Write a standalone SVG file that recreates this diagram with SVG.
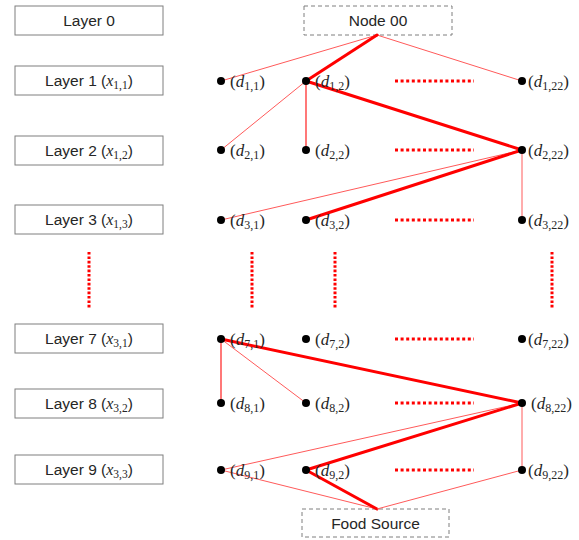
<svg xmlns="http://www.w3.org/2000/svg" width="579" height="540" viewBox="0 0 579 540">
  <style>
    .layer rect { fill: #fff; stroke: #7f7f7f; stroke-width: 1; }
    .term rect { fill: #fff; stroke: #7f7f7f; stroke-width: 1; stroke-dasharray: 4 3; }
    .lbl { font-family: "Liberation Sans", Arial, sans-serif; font-size: 15.5px; fill: #262626; text-anchor: middle; }
    .math { font-family: "Liberation Serif", "DejaVu Serif", serif; font-style: italic; font-size: 16px; }
    .sub { font-family: "Liberation Serif", "DejaVu Serif", serif; font-style: normal; font-size: 11.5px; }
    .dl { font-family: "Liberation Serif", "DejaVu Serif", serif; font-size: 17px; fill: #262626; }
    .dl .d { font-style: italic; }
    .dl .sub { font-size: 12px; }
    .dot { fill: #000; }
    .thin { stroke: #ff5a5a; stroke-width: 1; fill: none; }
    .mid { stroke: #ff3030; stroke-width: 1.3; fill: none; }
    .thick { stroke: #ff0000; stroke-width: 3; fill: none; stroke-linecap: round; }
    .hdots { stroke: #ff0000; stroke-width: 3; stroke-dasharray: 3 2.6; fill: none; }
    .vdots { stroke: #ff0000; stroke-width: 3; stroke-dasharray: 2.6 1.8; fill: none; }
  </style>

  <!-- layer labels -->
  <g id="layer0" class="layer"><rect x="15" y="6" width="148" height="29"/><text class="lbl" x="89" y="26">Layer 0</text></g>
  <g id="layer1" class="layer"><rect x="15" y="66" width="148" height="29"/><text class="lbl" x="89" y="86">Layer 1 (<tspan class="math">x</tspan><tspan class="sub" dy="3">1,1</tspan><tspan dy="-3">)</tspan></text></g>
  <g id="layer2" class="layer"><rect x="15" y="136" width="148" height="29"/><text class="lbl" x="89" y="156">Layer 2 (<tspan class="math">x</tspan><tspan class="sub" dy="3">1,2</tspan><tspan dy="-3">)</tspan></text></g>
  <g id="layer3" class="layer"><rect x="15" y="205" width="148" height="29"/><text class="lbl" x="89" y="225">Layer 3 (<tspan class="math">x</tspan><tspan class="sub" dy="3">1,3</tspan><tspan dy="-3">)</tspan></text></g>
  <g id="layer7" class="layer"><rect x="15" y="324" width="148" height="29"/><text class="lbl" x="89" y="344">Layer 7 (<tspan class="math">x</tspan><tspan class="sub" dy="3">3,1</tspan><tspan dy="-3">)</tspan></text></g>
  <g id="layer8" class="layer"><rect x="15" y="389" width="148" height="29"/><text class="lbl" x="89" y="409">Layer 8 (<tspan class="math">x</tspan><tspan class="sub" dy="3">3,2</tspan><tspan dy="-3">)</tspan></text></g>
  <g id="layer9" class="layer"><rect x="15" y="455" width="148" height="29"/><text class="lbl" x="89" y="475">Layer 9 (<tspan class="math">x</tspan><tspan class="sub" dy="3">3,3</tspan><tspan dy="-3">)</tspan></text></g>

  <!-- start and end nodes -->
  <g id="node00" class="term"><rect x="304" y="6" width="148" height="29"/><text class="lbl" x="378" y="26">Node 00</text></g>
  <g id="food" class="term"><rect x="302" y="509" width="147" height="28"/><text class="lbl" x="375.5" y="529">Food Source</text></g>

  <!-- connectors -->
  <g id="connectors">
    <line class="thin" x1="377" y1="35" x2="221" y2="81"/>
    <line class="thin" x1="377" y1="35" x2="522" y2="81"/>
    <line class="thick" x1="377" y1="35" x2="306" y2="81"/>
    <line class="thin" x1="306" y1="81" x2="221" y2="150"/>
    <line class="mid" x1="306" y1="81" x2="306" y2="150"/>
    <line class="thick" x1="306" y1="81" x2="522" y2="150"/>
    <line class="thin" x1="522" y1="150" x2="221" y2="220"/>
    <line class="thick" x1="522" y1="150" x2="306" y2="220"/>
    <line class="thin" x1="522" y1="150" x2="522" y2="220"/>
    <line class="mid" x1="221" y1="339" x2="221" y2="403"/>
    <line class="thin" x1="221" y1="339" x2="306" y2="403"/>
    <line class="thick" x1="221" y1="339" x2="522" y2="403"/>
    <line class="thin" x1="522" y1="403" x2="221" y2="470"/>
    <line class="thick" x1="522" y1="403" x2="306" y2="470"/>
    <line class="thin" x1="522" y1="403" x2="522" y2="470"/>
    <line class="thin" x1="221" y1="470" x2="377" y2="509"/>
    <line class="thick" x1="306" y1="470" x2="377" y2="509"/>
    <line class="thin" x1="522" y1="470" x2="377" y2="509"/>
  </g>

  <!-- ellipsis markers -->
  <g id="ellipses">
    <line class="hdots" x1="395" y1="81" x2="474" y2="81"/>
    <line class="hdots" x1="395" y1="150" x2="474" y2="150"/>
    <line class="hdots" x1="395" y1="220" x2="474" y2="220"/>
    <line class="hdots" x1="395" y1="339" x2="474" y2="339"/>
    <line class="hdots" x1="395" y1="403" x2="474" y2="403"/>
    <line class="hdots" x1="395" y1="470" x2="474" y2="470"/>
    <line class="vdots" x1="89" y1="252" x2="89" y2="308"/>
    <line class="vdots" x1="252" y1="252" x2="252" y2="308"/>
    <line class="vdots" x1="335" y1="252" x2="335" y2="308"/>
    <line class="vdots" x1="552" y1="252" x2="552" y2="308"/>
  </g>

  <!-- decision points -->
  <g id="d1_1"><circle class="dot" cx="221" cy="81" r="4"/><text class="dl" x="230" y="87">(<tspan class="d">d</tspan><tspan class="sub" dy="3">1,1</tspan><tspan dy="-3">)</tspan></text></g>
  <g id="d1_2"><circle class="dot" cx="306" cy="81" r="4"/><text class="dl" x="315" y="87">(<tspan class="d">d</tspan><tspan class="sub" dy="3">1,2</tspan><tspan dy="-3">)</tspan></text></g>
  <g id="d1_22"><circle class="dot" cx="522" cy="81" r="4"/><text class="dl" x="528" y="87">(<tspan class="d">d</tspan><tspan class="sub" dy="3">1,22</tspan><tspan dy="-3">)</tspan></text></g>

  <g id="d2_1"><circle class="dot" cx="221" cy="150" r="4"/><text class="dl" x="230" y="156">(<tspan class="d">d</tspan><tspan class="sub" dy="3">2,1</tspan><tspan dy="-3">)</tspan></text></g>
  <g id="d2_2"><circle class="dot" cx="306" cy="150" r="4"/><text class="dl" x="315" y="156">(<tspan class="d">d</tspan><tspan class="sub" dy="3">2,2</tspan><tspan dy="-3">)</tspan></text></g>
  <g id="d2_22"><circle class="dot" cx="522" cy="150" r="4"/><text class="dl" x="528" y="156">(<tspan class="d">d</tspan><tspan class="sub" dy="3">2,22</tspan><tspan dy="-3">)</tspan></text></g>

  <g id="d3_1"><circle class="dot" cx="221" cy="220" r="4"/><text class="dl" x="230" y="226">(<tspan class="d">d</tspan><tspan class="sub" dy="3">3,1</tspan><tspan dy="-3">)</tspan></text></g>
  <g id="d3_2"><circle class="dot" cx="306" cy="220" r="4"/><text class="dl" x="315" y="226">(<tspan class="d">d</tspan><tspan class="sub" dy="3">3,2</tspan><tspan dy="-3">)</tspan></text></g>
  <g id="d3_22"><circle class="dot" cx="522" cy="220" r="4"/><text class="dl" x="528" y="226">(<tspan class="d">d</tspan><tspan class="sub" dy="3">3,22</tspan><tspan dy="-3">)</tspan></text></g>

  <g id="d7_1"><circle class="dot" cx="221" cy="339" r="4"/><text class="dl" x="230" y="345">(<tspan class="d">d</tspan><tspan class="sub" dy="3">7,1</tspan><tspan dy="-3">)</tspan></text></g>
  <g id="d7_2"><circle class="dot" cx="306" cy="339" r="4"/><text class="dl" x="315" y="345">(<tspan class="d">d</tspan><tspan class="sub" dy="3">7,2</tspan><tspan dy="-3">)</tspan></text></g>
  <g id="d7_22"><circle class="dot" cx="522" cy="339" r="4"/><text class="dl" x="528" y="345">(<tspan class="d">d</tspan><tspan class="sub" dy="3">7,22</tspan><tspan dy="-3">)</tspan></text></g>

  <g id="d8_1"><circle class="dot" cx="221" cy="403" r="4"/><text class="dl" x="230" y="409">(<tspan class="d">d</tspan><tspan class="sub" dy="3">8,1</tspan><tspan dy="-3">)</tspan></text></g>
  <g id="d8_2"><circle class="dot" cx="306" cy="403" r="4"/><text class="dl" x="315" y="409">(<tspan class="d">d</tspan><tspan class="sub" dy="3">8,2</tspan><tspan dy="-3">)</tspan></text></g>
  <g id="d8_22"><circle class="dot" cx="522" cy="403" r="4"/><text class="dl" x="531" y="409">(<tspan class="d">d</tspan><tspan class="sub" dy="3">8,22</tspan><tspan dy="-3">)</tspan></text></g>

  <g id="d9_1"><circle class="dot" cx="221" cy="470" r="4"/><text class="dl" x="230" y="476">(<tspan class="d">d</tspan><tspan class="sub" dy="3">9,1</tspan><tspan dy="-3">)</tspan></text></g>
  <g id="d9_2"><circle class="dot" cx="306" cy="470" r="4"/><text class="dl" x="315" y="476">(<tspan class="d">d</tspan><tspan class="sub" dy="3">9,2</tspan><tspan dy="-3">)</tspan></text></g>
  <g id="d9_22"><circle class="dot" cx="522" cy="470" r="4"/><text class="dl" x="528" y="476">(<tspan class="d">d</tspan><tspan class="sub" dy="3">9,22</tspan><tspan dy="-3">)</tspan></text></g>
</svg>
